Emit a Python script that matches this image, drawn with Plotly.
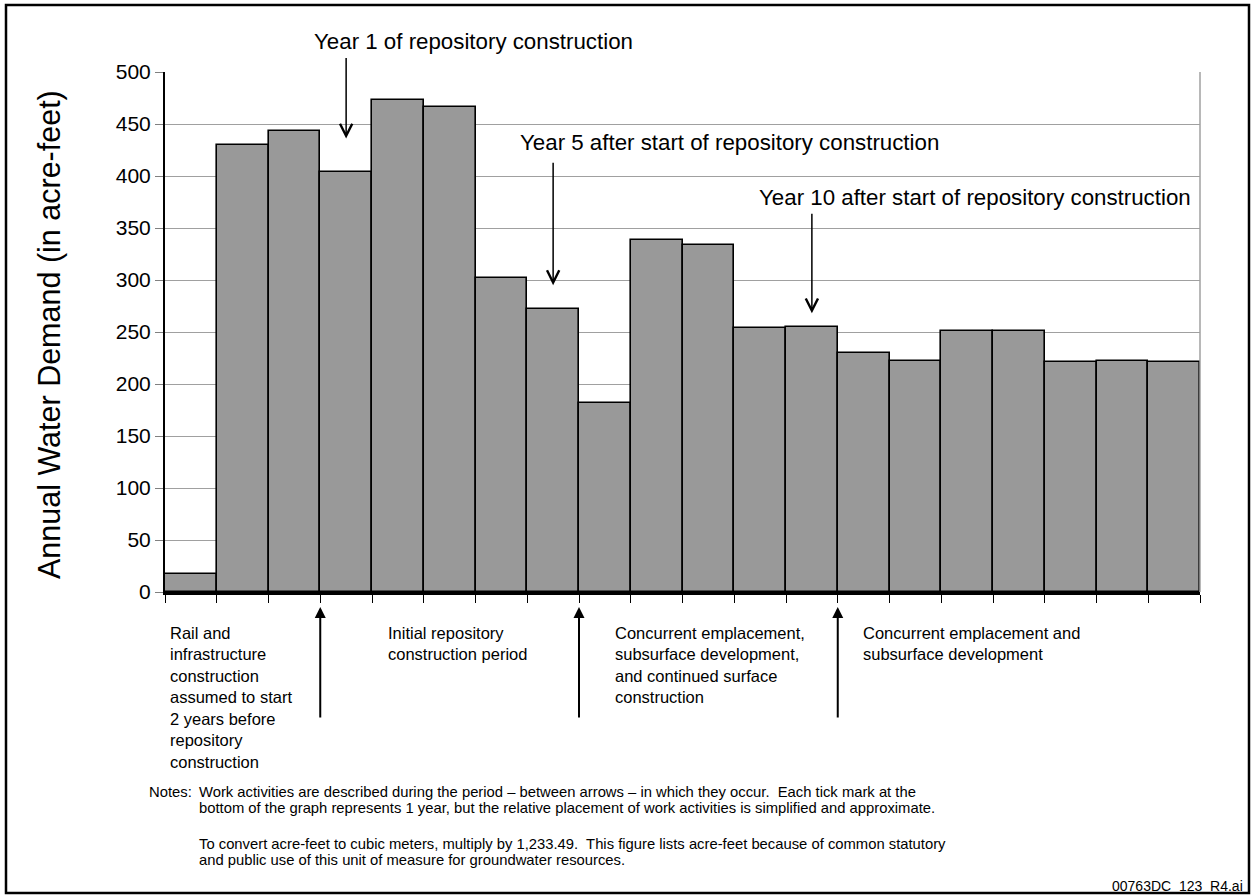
import numpy as np
import plotly.graph_objects as go

# ---------------- data ----------------
annual_demand = [17, 430, 443, 404, 473, 466, 302, 272, 182, 338,
                 334, 254, 255, 230, 222, 251, 251, 221, 222, 221]
y_ticks = [0, 50, 100, 150, 200, 250, 300, 350, 400, 450, 500]
y_title = "Annual Water Demand (in acre-feet)"
top_labels = ["Year 1 of repository construction",
              "Year 5 after start of repository construction",
              "Year 10 after start of repository construction"]
period_labels = ["Rail and<br>infrastructure<br>construction<br>assumed to start<br>2 years before<br>repository<br>construction",
                 "Initial repository<br>construction period",
                 "Concurrent emplacement,<br>subsurface development,<br>and continued surface<br>construction",
                 "Concurrent emplacement and<br>subsurface development"]
notes_head = "Notes:"
notes_lines = ["Work activities are described during the period \u2013 between arrows \u2013 in which they occur.\u00a0 Each tick mark at the",
               "bottom of the graph represents 1 year, but the relative placement of work activities is simplified and approximate.",
               "To convert acre-feet to cubic meters, multiply by 1,233.49.\u00a0 This figure lists acre-feet because of common statutory",
               "and public use of this unit of measure for groundwater resources."]
footer = "00763DC_123_R4.ai"

# ---------------- layout constants ----------------
W, H = 1251, 895
L, R, T, B = 165, 1200, 72, 592
FONT = "Liberation Sans, Arial, Helvetica, sans-serif"
n = len(annual_demand)


def px(xp):
    return (xp - L) / (R - L)


def py(yp):
    return (B - yp) / (B - T)


fig = go.Figure()
fig.add_trace(go.Bar(
    x=np.arange(n) + 0.5, y=annual_demand, width=1,
    marker=dict(color="#999999", line=dict(color="black", width=1.6)),
    hoverinfo="skip", showlegend=False,
))

ann = []
# top labels
top_pos = [(473, 42), (729, 142), (975, 197)]
for txt, (xp, yp) in zip(top_labels, top_pos):
    ann.append(dict(text=txt, xref="paper", yref="paper", x=px(xp), y=py(yp),
                    xanchor="center", yanchor="middle", showarrow=False,
                    font=dict(size=22.3, color="black", family=FONT)))
# downward arrows (bar index centre, tip value, pixel length)
down_arrows = [(3, 436, 82), (7, 295, 124), (12, 268, 101)]
for idx, tip, length in down_arrows:
    ann.append(dict(text="", x=idx + 0.5, y=tip, xref="x", yref="y",
                    ax=0, ay=-length, showarrow=True, arrowhead=5,
                    arrowsize=1.6, arrowwidth=1.5, arrowcolor="black", standoff=0))
# upward arrows below axis at year boundaries
for bnd in [3, 8, 13]:
    ann.append(dict(text="", x=bnd, y=py(607), xref="x", yref="paper",
                    ax=0, ay=112, showarrow=True, arrowhead=2,
                    arrowsize=1.1, arrowwidth=2, arrowcolor="black", standoff=0))
# period labels
period_x = [168, 386, 613, 861]
for txt, xp in zip(period_labels, period_x):
    ann.append(dict(text=txt, xref="paper", yref="paper", x=px(xp), y=py(622),
                    xanchor="left", yanchor="top", align="left", showarrow=False,
                    font=dict(size=16.5, color="black", family=FONT)))
# notes
note_y = [792, 808, 844, 860]
ann.append(dict(text=notes_head, xref="paper", yref="paper", x=px(147), y=py(note_y[0]),
                xanchor="left", yanchor="middle", showarrow=False,
                font=dict(size=14.8, color="black", family=FONT)))
for txt, yp in zip(notes_lines, note_y):
    ann.append(dict(text=txt, xref="paper", yref="paper", x=px(197), y=py(yp),
                    xanchor="left", yanchor="middle", showarrow=False,
                    font=dict(size=14.8, color="black", family=FONT)))
ann.append(dict(text=footer, xref="paper", yref="paper", x=px(1245), y=py(886),
                xanchor="right", yanchor="middle", showarrow=False,
                font=dict(size=14, color="black", family=FONT)))
# y title
ann.append(dict(text=y_title, xref="paper", yref="paper", x=px(49), y=py(335),
                xanchor="center", yanchor="middle", textangle=-90, showarrow=False,
                font=dict(size=30.5, color="black", family=FONT)))

shapes = [
    dict(type="rect", xref="paper", yref="paper", x0=px(6), x1=px(1249),
         y0=py(893), y1=py(5), line=dict(color="black", width=2.5)),
    dict(type="line", xref="paper", yref="paper", x0=1, x1=1, y0=0, y1=1,
         line=dict(color="#a0a0a0", width=1.5)),
]

fig.update_layout(
    width=W, height=H,
    margin=dict(l=L, r=W - R, t=T, b=H - B, pad=0),
    paper_bgcolor="white", plot_bgcolor="white",
    bargap=0, showlegend=False,
    font=dict(family=FONT, color="black"),
    annotations=ann, shapes=shapes,
    xaxis=dict(range=[0, n], tickvals=list(range(n + 1)), showticklabels=False,
               ticks="outside", ticklen=8, tickwidth=1, tickcolor="black",
               showline=True, linecolor="black", linewidth=2.5,
               showgrid=False, zeroline=False, fixedrange=True),
    yaxis=dict(range=[0, 500], tickvals=y_ticks, ticks="outside", ticklen=8,
               tickwidth=1, tickcolor="#808080", showline=True, linecolor="black",
               linewidth=2, showgrid=True, gridcolor="#a0a0a0", gridwidth=1,
               zeroline=False, tickfont=dict(size=21, color="black", family=FONT),
               fixedrange=True),
)

fig.write_html("out.html", config={"displayModeBar": False},
               post_script="document.body.style.margin='0';document.body.style.overflow='hidden';")
